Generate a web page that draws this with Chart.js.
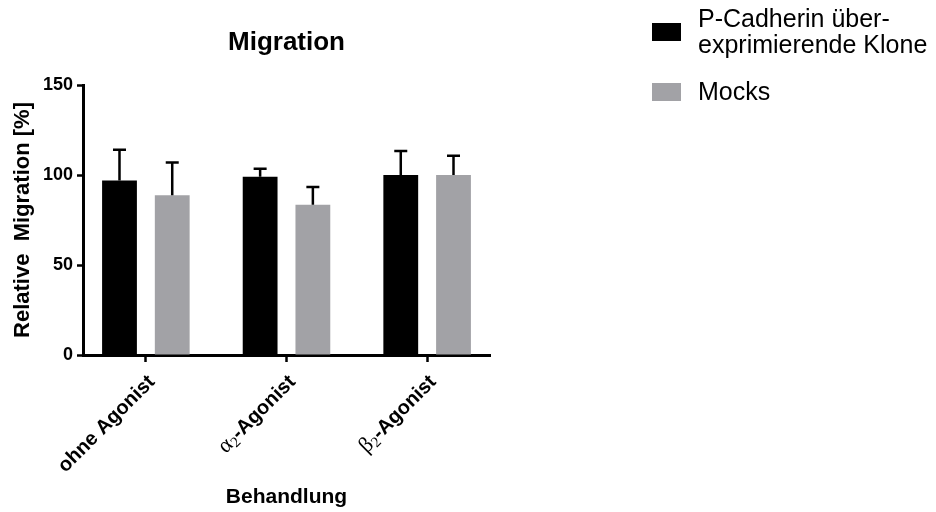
<!DOCTYPE html>
<html>
<head>
<meta charset="utf-8">
<script src="https://cdn.jsdelivr.net/npm/chart.js@4/dist/chart.umd.min.js"></script>
<style>
  html, body { margin: 0; padding: 0; background: #ffffff; }
  #wrap { width: 936px; height: 512px; position: relative; }
</style>
</head>
<body>
<div id="wrap"><canvas id="chart" width="936" height="512"></canvas></div>
<script>
// Migration assay: relative migration per treatment, mean + SD (upper error bar only)
const chartTitle = 'Migration';
const categories = ['ohne Agonist', 'α2-Agonist', 'β2-Agonist'];
const seriesNames = [['P-Cadherin über-', 'exprimierende Klone'], ['Mocks']];
const seriesColors = ['#000000', '#a2a2a6'];
const kloneMean = [97, 99, 100];
const kloneSD = [17, 4.5, 13.3];
const mocksMean = [88.8, 83.5, 100];
const mocksSD = [18.2, 9.8, 10.7];
const yTicks = [0, 50, 100, 150];
const yTitle = 'Relative  Migration [%]';
const xTitle = 'Behandlung';

const SANS = '"Liberation Sans", Arial, Helvetica, sans-serif';
const SERIF = '"Liberation Serif", "Times New Roman", serif';

const toPoints = arr => arr.map((v, i) => ({ x: i, y: v }));

// upper error bars (mean -> mean + SD) with a short cap
const errorBars = {
  id: 'errorBars',
  afterDatasetsDraw(chart) {
    const ctx = chart.ctx;
    const yScale = chart.scales.y;
    chart.data.datasets.forEach((ds, di) => {
      const meta = chart.getDatasetMeta(di);
      meta.data.forEach((bar, i) => {
        const top = yScale.getPixelForValue(ds.data[i].y + ds.sd[i]);
        ctx.save();
        ctx.strokeStyle = '#000';
        ctx.lineWidth = 2.5;
        ctx.beginPath();
        ctx.moveTo(bar.x, bar.y);
        ctx.lineTo(bar.x, top);
        ctx.moveTo(bar.x - 6.5, top);
        ctx.lineTo(bar.x + 6.5, top);
        ctx.stroke();
        ctx.restore();
      });
    });
  }
};

// chart heading centred over the plot area
const heading = {
  id: 'heading',
  afterDraw(chart) {
    const { ctx, chartArea } = chart;
    ctx.save();
    ctx.fillStyle = '#000';
    ctx.font = 'bold 26px ' + SANS;
    ctx.textAlign = 'center';
    ctx.textBaseline = 'alphabetic';
    ctx.fillText(chartTitle, (chartArea.left + chartArea.right) / 2, 50);
    ctx.restore();
  }
};

// rotated category labels; a leading Greek letter + digit is set as symbol with subscript
const xLabels = {
  id: 'xLabels',
  afterDraw(chart) {
    const ctx = chart.ctx;
    const xs = chart.scales.x;
    xs.ticks.forEach((t) => {
      const label = categories[t.value];
      const m = label.match(/^([α-ω])(\d)(.*)$/);
      const segs = m
        ? [
            { text: m[1], font: '22px ' + SERIF, dy: 0 },
            { text: m[2], font: '15px ' + SERIF, dy: 5 },
            { text: m[3], font: 'bold 20px ' + SANS, dy: 0 }
          ]
        : [{ text: label, font: 'bold 20px ' + SANS, dy: 0 }];
      ctx.save();
      let total = 0;
      segs.forEach(s => { ctx.font = s.font; s.w = ctx.measureText(s.text).width; total += s.w; });
      const px = xs.getPixelForValue(t.value);
      ctx.translate(px + 6, 379);
      ctx.rotate(-Math.PI / 4);
      ctx.fillStyle = '#000';
      ctx.textAlign = 'left';
      ctx.textBaseline = 'middle';
      let cx = -total;
      segs.forEach(s => {
        ctx.font = s.font;
        ctx.fillText(s.text, cx, s.dy);
        cx += s.w;
      });
      ctx.restore();
    });
  }
};

// legend to the right of the plot
const sideLegend = {
  id: 'sideLegend',
  afterDraw(chart) {
    const ctx = chart.ctx;
    const entries = [
      { box: [652, 23, 29, 18], lines: seriesNames[0], y0: 27, color: seriesColors[0] },
      { box: [652, 83, 29, 18], lines: seriesNames[1], y0: 100, color: seriesColors[1] }
    ];
    ctx.save();
    entries.forEach(e => {
      ctx.fillStyle = e.color;
      ctx.fillRect(e.box[0], e.box[1], e.box[2], e.box[3]);
      ctx.fillStyle = '#000';
      ctx.font = '25px ' + SANS;
      ctx.textAlign = 'left';
      ctx.textBaseline = 'alphabetic';
      e.lines.forEach((ln, k) => ctx.fillText(ln, 698, e.y0 + k * 26));
    });
    ctx.restore();
  }
};

new Chart(document.getElementById('chart'), {
  type: 'bar',
  data: {
    datasets: [
      { label: seriesNames[0].join(' '), data: toPoints(kloneMean), sd: kloneSD,
        backgroundColor: seriesColors[0], borderWidth: 0 },
      { label: seriesNames[1].join(' '), data: toPoints(mocksMean), sd: mocksSD,
        backgroundColor: seriesColors[1], borderWidth: 0 }
    ]
  },
  options: {
    responsive: false,
    animation: false,
    events: [],
    categoryPercentage: 0.75,
    barPercentage: 0.66,
    layout: { padding: { top: 85, right: 446, left: 0, bottom: 0 } },
    plugins: { legend: { display: false }, tooltip: { enabled: false }, title: { display: false } },
    scales: {
      x: {
        type: 'linear',
        offset: false,
        min: -0.447,
        max: 2.447,
        afterBuildTicks: s => { s.ticks = categories.map((c, i) => ({ value: i })); },
        afterFit: s => { s.height = 157; },
        border: { display: true, color: '#000', width: 3 },
        grid: { display: true, offset: false, drawOnChartArea: false, drawTicks: true, tickLength: 7, tickWidth: 2.5, tickColor: '#000' },
        ticks: { display: false },
        title: { display: true, text: xTitle, color: '#000', font: { family: SANS, size: 21, weight: 'bold' }, padding: { top: 0, bottom: 2 } }
      },
      y: {
        min: 0,
        max: 150,
        afterBuildTicks: s => { s.ticks = yTicks.map(v => ({ value: v })); },
        afterFit: s => { s.width = 83; },
        border: { display: true, color: '#000', width: 3 },
        grid: { display: true, drawOnChartArea: false, drawTicks: true, tickLength: 6, tickWidth: 2.5, tickColor: '#000' },
        ticks: { color: '#000', font: { family: SANS, size: 18, weight: 'bold' }, padding: 4 },
        title: { display: true, text: yTitle, color: '#000', font: { family: SANS, size: 22, weight: 'bold' }, padding: { top: 10, bottom: 0 } }
      }
    }
  },
  plugins: [errorBars, heading, xLabels, sideLegend]
});
</script>
</body>
</html>
